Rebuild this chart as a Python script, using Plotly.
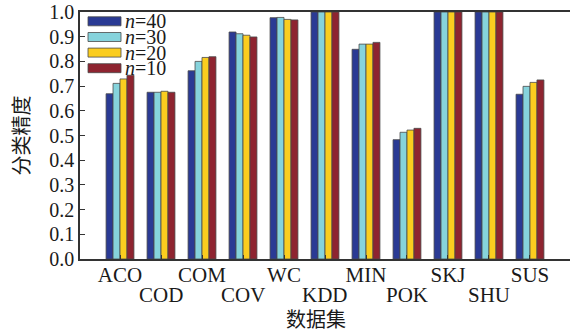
import plotly.graph_objects as go

categories = ["ACO", "COD", "COM", "COV", "WC", "KDD", "MIN", "POK", "SKJ", "SHU", "SUS"]
series_names = ["n=40", "n=30", "n=20", "n=10"]
legend_labels = ["<i>n</i>=40", "<i>n</i>=30", "<i>n</i>=20", "<i>n</i>=10"]
n40 = [0.669, 0.675, 0.762, 0.919, 0.977, 1.000, 0.849, 0.483, 1.000, 1.000, 0.667]
n30 = [0.711, 0.675, 0.800, 0.912, 0.978, 1.000, 0.870, 0.513, 1.000, 1.000, 0.699]
n20 = [0.729, 0.679, 0.816, 0.906, 0.970, 1.000, 0.870, 0.522, 1.000, 1.000, 0.715]
n10 = [0.744, 0.675, 0.819, 0.899, 0.968, 1.000, 0.877, 0.529, 1.000, 1.000, 0.725]
y_ticks = [0.0, 0.1, 0.2, 0.3, 0.4, 0.5, 0.6, 0.7, 0.8, 0.9, 1.0]

series = [n40, n30, n20, n10]
colors = ["#2a3a94", "#86d3dc", "#fbcd1f", "#8e2430"]

serif = "Times New Roman"
cjk = "Noto Sans CJK SC"

W, H = 571, 333
ml, mr, mt, mb = 80, 1, 12, 74
pw = W - ml - mr
ph = H - mt - mb

fig = go.Figure()
x_idx = list(range(len(categories)))
for name, vals, col in zip(series_names, series, colors):
    fig.add_trace(go.Bar(
        x=x_idx, y=vals, name=name, marker_color=col,
        marker_line_color="#4a4a4a", marker_line_width=0.8,
        showlegend=False,
    ))

# upper row of category labels via tick labels, lower row via annotations
ticktext = [c if i % 2 == 0 else "" for i, c in enumerate(categories)]

fig.update_layout(
    width=W, height=H,
    margin=dict(l=ml, r=mr, t=mt, b=mb, pad=0),
    paper_bgcolor="white", plot_bgcolor="white",
    barmode="group", bargap=0.32, bargroupgap=0,
    font=dict(family=serif, size=20, color="#1a1a1a"),
    xaxis=dict(
        range=[-0.976, 10.976], tickmode="array", tickvals=x_idx, ticktext=ticktext,
        tickangle=0, ticklabelstandoff=-4,
        showline=True, linecolor="#333333", linewidth=1.5, mirror=True,
        ticks="inside", ticklen=4, tickcolor="#333333", showgrid=False, zeroline=False,
        tickfont=dict(family=serif, size=21),
        title=dict(text=""),
    ),
    yaxis=dict(
        range=[0, 1.0], tickmode="array", tickvals=y_ticks,
        ticktext=[f"{v:.1f}" for v in y_ticks],
        showline=True, linecolor="#333333", linewidth=1.5, mirror=False,
        ticks="inside", ticklen=5, tickcolor="#333333", showgrid=False, zeroline=False,
        tickfont=dict(family=serif, size=20),
        title=dict(text="分类精度", font=dict(family=cjk, size=20), standoff=14),
    ),
)

for i, c in enumerate(categories):
    if i % 2 == 1:
        fig.add_annotation(xref="x", yref="paper", x=i, y=(H - mb - 295) / ph,
                           text=c, showarrow=False, xanchor="center", yanchor="middle",
                           font=dict(family=serif, size=21, color="#1a1a1a"))

fig.add_annotation(xref="paper", yref="paper", x=(316 - ml) / pw, y=(H - mb - 318) / ph,
                   text="数据集", showarrow=False, xanchor="center", yanchor="middle",
                   font=dict(family=cjk, size=20, color="#1a1a1a"))

# manual legend with wide swatches
row_centers = [21.3, 37.0, 52.6, 68.2]
for lab, col, cy in zip(legend_labels, colors, row_centers):
    x0 = (88 - ml) / pw
    x1 = (121 - ml) / pw
    y0 = (H - mb - (cy + 4.5)) / ph
    y1 = (H - mb - (cy - 4.5)) / ph
    fig.add_shape(type="rect", xref="paper", yref="paper", x0=x0, x1=x1, y0=y0, y1=y1,
                  fillcolor=col, line=dict(color="#4a4a4a", width=0.8))
    fig.add_annotation(xref="paper", yref="paper", x=(123 - ml) / pw, y=(H - mb - cy) / ph,
                       text=lab, showarrow=False, xanchor="left", yanchor="middle",
                       font=dict(family=serif, size=20, color="#1a1a1a"))

fig.write_html("out.html")
